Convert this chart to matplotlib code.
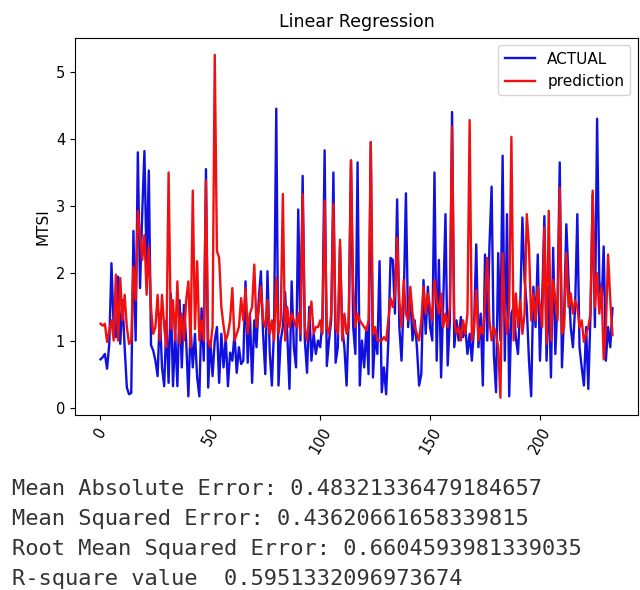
''' Actual vs predicted MTSI from a linear regression, with error metrics. '''
import matplotlib
import matplotlib.pyplot as plt

matplotlib.use('Agg')

# values, one per test sample
actual = [
    0.72, 0.75, 0.80, 0.58, 0.95, 2.15, 1.20, 1.05, 1.95, 0.95,
    1.60, 0.90, 0.30, 0.20, 0.22, 2.63, 1.00, 3.80, 1.78, 2.90,
    3.82, 2.10, 3.53, 0.93, 0.85, 0.70, 0.47, 1.40, 0.60, 0.32,
    1.30, 0.37, 1.70, 0.32, 1.10, 0.32, 1.60, 0.60, 1.53, 1.00,
    0.17, 1.20, 0.60, 1.10, 0.45, 0.17, 1.48, 0.70, 3.55, 0.30,
    1.00, 0.47, 1.00, 1.20, 0.37, 1.10, 0.60, 1.05, 0.32, 0.82,
    0.70, 1.10, 0.52, 0.90, 0.65, 0.70, 1.88, 0.67, 1.40, 0.37,
    1.30, 0.90, 1.60, 2.03, 1.10, 0.50, 2.03, 0.85, 0.33, 1.20,
    4.45, 0.33, 1.00, 1.20, 1.72, 1.10, 0.28, 1.88, 0.90, 0.60,
    2.95, 1.00, 3.45, 1.00, 0.52, 1.50, 0.70, 1.10, 0.80, 1.00,
    0.90, 1.30, 3.83, 0.62, 1.00, 1.30, 3.50, 0.67, 0.90, 2.40,
    1.20, 0.90, 0.33, 1.40, 3.68, 1.20, 0.80, 3.65, 0.33, 1.00,
    0.60, 1.20, 0.50, 3.95, 0.45, 1.10, 0.80, 2.18, 0.23, 0.60,
    0.20, 1.00, 2.23, 2.20, 1.40, 3.10, 1.20, 0.70, 1.60, 3.19,
    1.20, 1.70, 1.00, 1.30, 0.90, 0.33, 0.50, 1.90, 1.10, 1.80,
    1.20, 1.00, 3.50, 0.70, 2.20, 0.45, 1.60, 2.88, 0.63, 1.30,
    4.40, 0.90, 1.30, 1.00, 1.35, 1.05, 1.20, 0.80, 1.10, 0.70,
    1.20, 2.43, 0.90, 1.40, 0.33, 2.28, 1.00, 2.40, 3.29, 0.80,
    0.23, 2.30, 1.00, 3.75, 0.70, 2.88, 0.17, 1.40, 1.50, 1.05,
    0.80, 1.50, 2.83, 1.90, 1.50, 0.70, 0.17, 1.80, 1.20, 2.28,
    0.70, 1.60, 2.85, 0.70, 1.80, 0.45, 2.38, 0.80, 1.60, 3.65,
    0.60, 1.40, 2.73, 1.90, 1.20, 0.90, 1.50, 2.88, 0.90, 0.60,
    0.33, 1.20, 0.28, 1.40, 3.18, 1.20, 4.30, 1.90, 1.50, 2.40,
    0.70, 1.20, 0.90, 1.48,
]
prediction = [
    1.25, 1.22, 1.25, 0.98, 1.15, 1.30, 1.00, 1.98, 1.00, 1.93,
    1.30, 1.68, 1.20, 0.95, 1.00, 2.10, 1.60, 2.93, 2.58, 2.20,
    2.57, 1.68, 2.40, 1.48, 1.10, 1.20, 1.68, 1.00, 1.68, 1.20,
    0.90, 3.50, 1.17, 1.60, 1.00, 1.88, 0.95, 1.40, 1.00, 1.60,
    1.88, 0.90, 3.23, 1.17, 2.18, 1.00, 1.30, 1.00, 3.38, 1.00,
    0.90, 1.20, 5.25, 2.33, 2.23, 1.50, 1.22, 1.00, 1.10, 1.30,
    1.78, 1.00, 1.10, 1.20, 1.63, 1.30, 1.78, 1.10, 1.40, 1.50,
    2.13, 1.20, 1.45, 1.80, 1.30, 1.20, 1.60, 1.10, 1.30, 1.00,
    1.93, 1.10, 1.30, 3.18, 1.00, 1.50, 1.20, 1.40, 1.30, 1.20,
    1.40, 1.10, 3.18, 1.20, 1.00, 1.30, 1.58, 1.10, 1.20, 1.20,
    1.30, 1.10, 3.08, 1.20, 1.10, 1.40, 3.03, 1.20, 1.10, 2.50,
    1.00, 1.40, 1.10, 1.20, 3.68, 1.80, 1.20, 1.40, 1.30, 1.25,
    1.20, 1.15, 1.30, 3.95, 1.10, 1.20, 1.00, 1.00, 1.00, 1.05,
    1.00, 1.30, 1.63, 1.50, 1.70, 2.53, 1.60, 1.20, 1.90, 1.40,
    1.30, 1.80, 1.40, 1.20, 1.10, 1.00, 1.30, 1.80, 1.40, 1.70,
    1.50, 1.30, 1.90, 1.60, 1.40, 1.70, 1.20, 1.40, 1.20, 1.50,
    4.18, 1.30, 1.10, 1.20, 1.00, 1.30, 1.10, 1.40, 4.28, 1.00,
    1.20, 1.75, 1.00, 1.20, 1.10, 1.60, 2.23, 1.30, 1.00, 1.20,
    1.10, 0.90, 0.15, 2.30, 1.40, 1.10, 1.50, 4.03, 1.00, 1.70,
    1.20, 1.60, 1.10, 1.40, 2.88, 2.40, 1.30, 1.70, 1.30, 1.80,
    1.50, 1.20, 2.68, 0.95, 2.93, 1.00, 1.90, 1.60, 1.30, 3.27,
    1.10, 1.20, 2.30, 1.50, 1.70, 1.40, 1.60, 1.50, 1.20, 1.30,
    0.98, 1.10, 1.20, 1.40, 3.23, 1.50, 2.00, 1.40, 1.80, 0.72,
    1.20, 2.28, 1.60, 1.08,
]

# printed metrics, shown under the chart like notebook output
metric_lines = [
    'Mean Absolute Error: 0.48321336479184657',
    'Mean Squared Error: 0.43620661658339815',
    'Root Mean Squared Error: 0.6604593981339035',
    'R-square value  0.5951332096973674',
]

fig = plt.figure(figsize=(6.4, 5.9), dpi=100)
ax = fig.add_axes([0.117, 0.297, 0.88, 0.639])

ax.plot(range(len(actual)), actual, color='#1010e0', lw=1.7, label='ACTUAL')
ax.plot(range(len(prediction)), prediction, color='#f01010', lw=1.7, label='prediction')

ax.set_title('Linear Regression', fontsize=12.5, pad=8)
ax.set_ylabel('MTSI', fontsize=11)
ax.tick_params(labelsize=10.5)
plt.setp(ax.get_xticklabels(), rotation=60)
ax.legend(loc='upper right', fontsize=11)

for i, line in enumerate(metric_lines):
    fig.text(0.018, 0.172 - i * 0.051, line, family='DejaVu Sans Mono',
             fontsize=15.8, color='#333333', va='center')

plt.savefig('out.png')
